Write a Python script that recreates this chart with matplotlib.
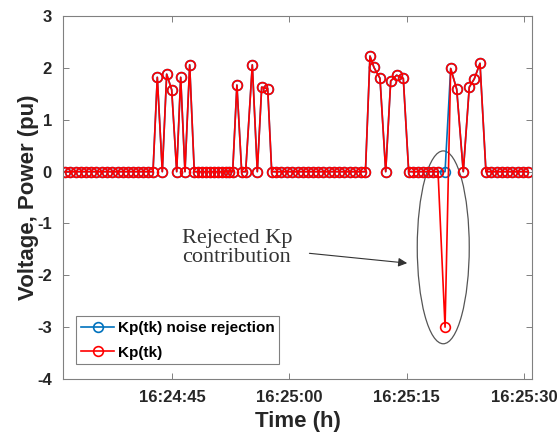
import numpy as np
import pandas as pd
import matplotlib
matplotlib.use('Agg')
import matplotlib.pyplot as plt
import matplotlib.dates as mdates
from matplotlib.patches import Ellipse

# sample times, seconds after 16:24:30
t_sec = [1.32, 1.96, 2.66, 3.36, 4.00, 4.64, 5.34, 6.05, 6.69, 7.33, 8.03, 8.73,
         9.37, 10.01, 10.65, 11.29, 11.93, 12.57,
         13.12, 13.76, 14.32, 14.96, 15.60, 16.11, 16.66, 17.26, 17.85,
         18.33, 18.84, 19.35, 19.86, 20.37, 20.88, 21.39, 21.91, 22.35, 22.76,
         23.30, 23.91, 24.42, 25.27, 25.91, 26.47, 27.24, 27.75,
         28.36, 29.00, 29.71, 30.35, 31.05, 31.69, 32.39, 33.03, 33.73, 34.37,
         35.08, 35.72, 36.42, 37.06, 37.76, 38.40, 39.11, 39.74,
         40.32, 40.83, 41.60, 42.33, 42.97, 43.73, 44.58, 45.27,
         45.82, 46.46, 47.10, 47.74, 48.38, 49.02,
         49.92,
         50.64, 51.41, 52.25, 53.02, 53.66, 54.39, 55.15,
         55.86, 56.56, 57.20, 57.90, 58.54, 59.25, 59.89, 60.53]

kp = [0]*18 + \
     [1.82, 0, 1.88, 1.58, 0, 1.82, 0, 2.06, 0] + \
     [0]*10 + \
     [1.67, 0, 0, 2.06, 0, 1.63, 1.60, 0] + \
     [0]*18 + \
     [2.23, 2.01, 1.80, 0, 1.75, 1.86, 1.80, 0] + \
     [0]*6 + \
     [-3.0] + \
     [1.99, 1.59, 0, 1.63, 1.79, 2.09, 0] + \
     [0]*8

kp_rej = list(kp)
kp_rej[t_sec.index(49.92)] = 0.0

base = pd.Timestamp('2020-01-01 16:24:30')
times = base + pd.to_timedelta(t_sec, unit='s')

plt.rcParams['font.family'] = ['Liberation Sans', 'DejaVu Sans']
plt.rcParams['axes.unicode_minus'] = False
txt_col = '#262626'

fig = plt.figure(figsize=(5.6, 4.36), dpi=100)
ax = fig.add_axes([0.1125, 0.1307, 0.8375, 0.8323])

ax.plot(times, kp_rej, '-o', color='#0072BD', lw=1.2, ms=7, mfc='none', mew=1.2,
        label='Kp(tk) noise rejection')
ax.plot(times, kp, '-o', color='#FF0000', lw=1.2, ms=7, mfc='none', mew=1.2,
        label='Kp(tk)')

t0 = mdates.date2num(base)
day = 1.0 / 86400
ax.set_xlim(t0 + 1.06*day, t0 + 61.04*day)
ax.set_ylim(-4, 3)
ax.set_yticks(range(-4, 4))
ax.xaxis.set_major_locator(mdates.SecondLocator(bysecond=[0, 15, 30, 45]))
ax.xaxis.set_major_formatter(mdates.DateFormatter('%H:%M:%S'))

# ellipse around the rejected point
ell = Ellipse((t0 + 49.69*day, -1.46), 6.65*day, 3.72, fill=False,
              edgecolor='#555555', lw=0.9)
ax.add_patch(ell)

ax.text(t0 + 16.24*day, -1.47, 'Rejected Kp\ncontribution', family='Liberation Serif',
        fontsize=16, color='#333333', ha='left', va='center', multialignment='left',
        linespacing=1.0)
ax.annotate('', xy=(t0 + 45.43*day, -1.77), xytext=(t0 + 32.22*day, -1.57),
            arrowprops=dict(arrowstyle='-|>', color='#333333', lw=0.8, mutation_scale=13))

for s in ax.spines.values():
    s.set_color('#808080')
    s.set_linewidth(0.8)
ax.tick_params(direction='in', top=True, right=True, length=4, width=0.7,
               color='#808080', labelsize=12, labelcolor=txt_col, pad=8)
for lab in ax.get_xticklabels() + ax.get_yticklabels():
    lab.set_fontweight('bold')

ax.set_xlabel('Time (h)', fontsize=16, fontweight='bold', color=txt_col, labelpad=4)
ax.set_ylabel('Voltage, Power (pu)', fontsize=16, fontweight='bold', color=txt_col, labelpad=-1)

leg = ax.legend(loc='lower left', bbox_to_anchor=(0.028, 0.041), borderaxespad=0,
                fancybox=False, framealpha=1, edgecolor='#808080',
                prop={'weight': 'bold', 'size': 11}, handlelength=2.2,
                borderpad=0.3, labelspacing=0.7, handletextpad=0.25)
leg.get_frame().set_linewidth(0.8)

fig.savefig('out.png', dpi=100)
